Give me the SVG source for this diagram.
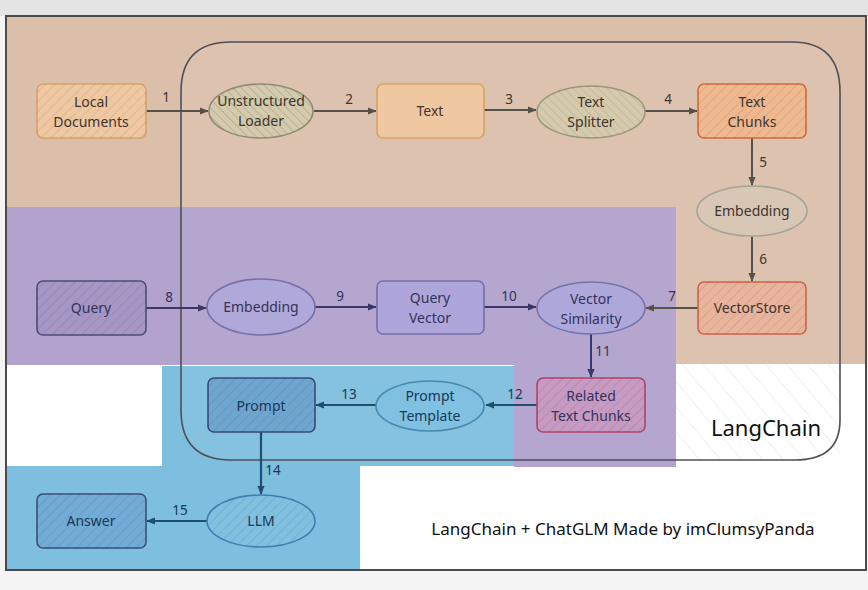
<svg xmlns="http://www.w3.org/2000/svg" width="868" height="590" viewBox="0 0 868 590">
<defs>
<style>
.t{font-family:"Noto Sans","DejaVu Sans",sans-serif;font-size:14px;text-anchor:middle}
.lb{font-family:"Noto Sans","DejaVu Sans",sans-serif;font-size:13.5px;text-anchor:middle}
.o{fill:#3e352e}.p{fill:#34325a}.b{fill:#1a3858}
.eo{stroke:#555048;stroke-width:2;fill:none}
.ep{stroke:#3a3868;stroke-width:2;fill:none}
.eb{stroke:#1f4e72;stroke-width:2.2;fill:none}
</style>
<pattern id="h" width="7" height="7" patternUnits="userSpaceOnUse" patternTransform="rotate(45)">
<line x1="0" y1="0" x2="0" y2="7" stroke="#000" stroke-opacity="0.1" stroke-width="1.5"/>
</pattern>
<pattern id="hd" width="6" height="6" patternUnits="userSpaceOnUse" patternTransform="rotate(-45)">
<line x1="0" y1="0" x2="0" y2="6" stroke="#3a3a30" stroke-opacity="0.3" stroke-width="1.1"/>
</pattern>
<pattern id="hw" width="16" height="16" patternUnits="userSpaceOnUse" patternTransform="rotate(-40)">
<line x1="0" y1="0" x2="0" y2="16" stroke="#c8d6e2" stroke-opacity="0.3" stroke-width="2"/>
</pattern>
<marker id="ao" viewBox="0 0 10 10" refX="9" refY="5" markerWidth="9" markerHeight="9" markerUnits="userSpaceOnUse" orient="auto"><path d="M0,1 L10,5 L0,9 z" fill="#555048"/></marker>
<marker id="ap" viewBox="0 0 10 10" refX="9" refY="5" markerWidth="9" markerHeight="9" markerUnits="userSpaceOnUse" orient="auto"><path d="M0,1 L10,5 L0,9 z" fill="#3a3868"/></marker>
<marker id="ab" viewBox="0 0 10 10" refX="9" refY="5" markerWidth="9" markerHeight="9" markerUnits="userSpaceOnUse" orient="auto"><path d="M0,1 L10,5 L0,9 z" fill="#1f4e72"/></marker>
</defs>

<g id="background">
<rect x="0" y="0" width="868" height="590" fill="#f4f4f4"/>
<rect x="0" y="0" width="868" height="16" fill="#e4e4e4"/>
<rect x="6" y="16" width="860" height="554" fill="#ffffff" stroke="#4a4a4a" stroke-width="2"/>
<rect x="7" y="17" width="858" height="191" fill="#dcbfab"/>
<rect x="676" y="207" width="189" height="157" fill="#dcbfab"/>
<rect x="7" y="207" width="669" height="158" fill="#b2a2cd"/>
<rect x="162" y="366" width="352" height="100" fill="#7ebfdf"/>
<rect x="514" y="365" width="162" height="102" fill="#b2a2cd"/>
<rect x="7" y="466" width="353" height="103" fill="#7ebfdf"/>
<rect x="676" y="364" width="164" height="96" fill="url(#hw)"/>
</g>

<g id="langchain-container">
<path d="M231,42 L792,42 Q840,42 840,92 L840,420 Q840,460 795,460 L231,460 Q181,460 181,410 L181,92 Q181,42 231,42 Z" fill="#ffffff" fill-opacity="0.05" stroke="#4f4f55" stroke-width="1.6"/>
<text x="766" y="436" font-family="Noto Sans, DejaVu Sans, sans-serif" font-size="22" fill="#111" text-anchor="middle">LangChain</text>
</g>

<g id="connectors">
<line class="eo" x1="146" y1="111" x2="208" y2="111" marker-end="url(#ao)"/>
<text class="lb o" x="166" y="102">1</text>
<line class="eo" x1="314" y1="111" x2="376" y2="111" marker-end="url(#ao)"/>
<text class="lb o" x="349" y="104">2</text>
<line class="eo" x1="484" y1="110" x2="536" y2="110" marker-end="url(#ao)"/>
<text class="lb o" x="509" y="104">3</text>
<line class="eo" x1="645" y1="111" x2="697" y2="111" marker-end="url(#ao)"/>
<text class="lb o" x="668" y="104">4</text>
<line class="eo" x1="752" y1="138" x2="752" y2="185" marker-end="url(#ao)"/>
<text class="lb o" x="763" y="167">5</text>
<line class="eo" x1="752" y1="237" x2="752" y2="281" marker-end="url(#ao)"/>
<text class="lb o" x="763" y="264">6</text>
<line class="eo" x1="698" y1="308" x2="646" y2="308" marker-end="url(#ao)"/>
<text class="lb o" x="672" y="301">7</text>
<line class="ep" x1="146" y1="308" x2="206" y2="308" marker-end="url(#ap)"/>
<text class="lb p" x="169" y="302">8</text>
<line class="ep" x1="315" y1="307" x2="376" y2="307" marker-end="url(#ap)"/>
<text class="lb p" x="340" y="301">9</text>
<line class="ep" x1="484" y1="307" x2="536" y2="307" marker-end="url(#ap)"/>
<text class="lb p" x="509" y="301">10</text>
<line class="ep" x1="591" y1="334" x2="591" y2="377" marker-end="url(#ap)"/>
<text class="lb p" x="603" y="356">11</text>
<line class="eb" x1="537" y1="405" x2="486" y2="405" marker-end="url(#ab)"/>
<text class="lb b" x="515" y="399">12</text>
<line class="eb" x1="376" y1="405" x2="316" y2="405" marker-end="url(#ab)"/>
<text class="lb b" x="349" y="399">13</text>
<line class="eb" x1="261" y1="432" x2="261" y2="494" marker-end="url(#ab)"/>
<text class="lb b" x="273" y="475">14</text>
<line class="eb" x1="207" y1="521" x2="147" y2="521" marker-end="url(#ab)"/>
<text class="lb b" x="180" y="515">15</text>
</g>

<g id="node-local-documents">
<rect x="37" y="84" width="109" height="54" rx="6" fill="#efc8a2" stroke="#d6a266" stroke-width="1.6"/>
<rect x="37" y="84" width="109" height="54" rx="6" fill="url(#h)"/>
<text class="t o" x="91" y="107">Local</text><text class="t o" x="91" y="127">Documents</text>
</g>
<g id="node-unstructured-loader">
<ellipse cx="261" cy="111" rx="52" ry="27" fill="#d4caac" stroke="#8e8c78" stroke-width="1.6"/>
<ellipse cx="261" cy="111" rx="52" ry="27" fill="url(#hd)"/>
<text class="t o" x="261" y="106">Unstructured</text><text class="t o" x="261" y="126">Loader</text>
</g>
<g id="node-text">
<rect x="377" y="84" width="107" height="54" rx="6" fill="#efc8a2" stroke="#d6a266" stroke-width="1.6"/>
<text class="t o" x="430" y="116">Text</text>
</g>
<g id="node-text-splitter">
<ellipse cx="591" cy="112" rx="54" ry="26" fill="#d6caac" stroke="#9a9880" stroke-width="1.6"/>
<ellipse cx="591" cy="112" rx="54" ry="26" fill="url(#hd)" opacity="0.7"/>
<text class="t o" x="591" y="107">Text</text><text class="t o" x="591" y="127">Splitter</text>
</g>
<g id="node-text-chunks">
<rect x="698" y="84" width="108" height="54" rx="6" fill="#f0b88f" stroke="#cf6a3c" stroke-width="1.6"/>
<rect x="698" y="84" width="108" height="54" rx="6" fill="url(#h)"/>
<text class="t o" x="752" y="107">Text</text><text class="t o" x="752" y="127">Chunks</text>
</g>
<g id="node-embedding-docs">
<ellipse cx="752" cy="211" rx="55" ry="25" fill="#d9c7b6" stroke="#a4a494" stroke-width="1.6"/>
<text class="t o" x="752" y="216">Embedding</text>
</g>
<g id="node-vectorstore">
<rect x="698" y="282" width="108" height="52" rx="6" fill="#e9b49c" stroke="#d0604c" stroke-width="1.6"/>
<rect x="698" y="282" width="108" height="52" rx="6" fill="url(#h)"/>
<text class="t o" x="752" y="313">VectorStore</text>
</g>
<g id="node-query">
<rect x="37" y="281" width="109" height="54" rx="6" fill="#a696c6" stroke="#4e4e74" stroke-width="1.6"/>
<rect x="37" y="281" width="109" height="54" rx="6" fill="url(#h)"/>
<text class="t p" x="91" y="313">Query</text>
</g>
<g id="node-embedding-query">
<ellipse cx="261" cy="307" rx="54" ry="28" fill="#b0a8d8" stroke="#7470a8" stroke-width="1.6"/>
<text class="t p" x="261" y="312">Embedding</text>
</g>
<g id="node-query-vector">
<rect x="377" y="281" width="107" height="53" rx="6" fill="#aea6da" stroke="#7470a8" stroke-width="1.6"/>
<text class="t p" x="430" y="303">Query</text><text class="t p" x="430" y="323">Vector</text>
</g>
<g id="node-vector-similarity">
<ellipse cx="591" cy="308" rx="54" ry="26" fill="#aea8da" stroke="#7474aa" stroke-width="1.6"/>
<text class="t p" x="591" y="304">Vector</text><text class="t p" x="591" y="324">Similarity</text>
</g>
<g id="node-related-text-chunks">
<rect x="537" y="378" width="108" height="54" rx="6" fill="#c69ac2" stroke="#b0426e" stroke-width="1.6"/>
<rect x="537" y="378" width="108" height="54" rx="6" fill="url(#h)"/>
<text class="t p" x="591" y="401">Related</text><text class="t p" x="591" y="421">Text Chunks</text>
</g>
<g id="node-prompt-template">
<ellipse cx="430" cy="406" rx="54" ry="25" fill="#80c0e0" stroke="#4a88b0" stroke-width="1.6"/>
<text class="t b" x="430" y="401">Prompt</text><text class="t b" x="430" y="421">Template</text>
</g>
<g id="node-prompt">
<rect x="208" y="378" width="107" height="54" rx="6" fill="#6ea6d0" stroke="#3a4a7a" stroke-width="1.6"/>
<rect x="208" y="378" width="107" height="54" rx="6" fill="url(#h)"/>
<text class="t b" x="261" y="411">Prompt</text>
</g>
<g id="node-llm">
<ellipse cx="261" cy="521" rx="54" ry="26" fill="#80c0e0" stroke="#3d80b0" stroke-width="1.6"/>
<ellipse cx="261" cy="521" rx="54" ry="26" fill="url(#h)"/>
<text class="t b" x="261" y="526">LLM</text>
</g>
<g id="node-answer">
<rect x="37" y="494" width="109" height="54" rx="6" fill="#72acd6" stroke="#3a5078" stroke-width="1.6"/>
<rect x="37" y="494" width="109" height="54" rx="6" fill="url(#h)"/>
<text class="t b" x="91" y="526">Answer</text>
</g>

<g id="caption">
<text x="623" y="535" font-family="Noto Sans, DejaVu Sans, sans-serif" font-size="17" fill="#111" text-anchor="middle">LangChain + ChatGLM Made by imClumsyPanda</text>
</g>
</svg>
